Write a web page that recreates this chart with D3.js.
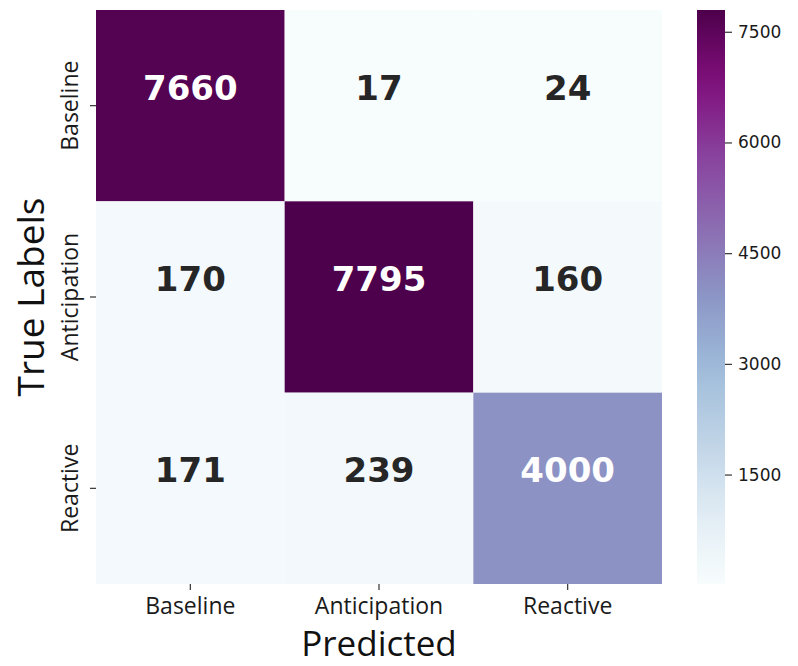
<!DOCTYPE html>
<html>
<head>
<meta charset="utf-8">
<script src="https://cdn.jsdelivr.net/npm/d3@7"></script>
<style>
  html, body { margin: 0; padding: 0; background: #fff; }
  svg { display: block; }
</style>
</head>
<body>
<svg id="chart" width="798" height="666"></svg>
<script>
// Confusion matrix: rows are true labels, columns are predictions
const classes = ["Baseline", "Anticipation", "Reactive"];
const rowBaseline = [7660, 17, 24];
const rowAnticipation = [170, 7795, 160];
const rowReactive = [171, 239, 4000];
const matrix = [rowBaseline, rowAnticipation, rowReactive];
const colorbarTicks = [1500, 3000, 4500, 6000, 7500];

// ColorBrewer BuPu, interpolated piecewise-linearly
const buPu = ["#f7fcfd", "#e0ecf4", "#bfd3e6", "#9ebcda", "#8c96c6",
              "#8c6bb1", "#88419d", "#810f7c", "#4d004b"];

const allValues = matrix.flat();
const vmin = d3.min(allValues), vmax = d3.max(allValues);

const ramp = d3.piecewise(d3.interpolateRgb, buPu);
const color = d3.scaleSequential(ramp).domain([vmin, vmax]);

const svg = d3.select("#chart");
const m = { left: 96, top: 10, right: 662, bottom: 584 };

const x = d3.scaleBand().domain(classes).range([m.left, m.right]);
const y = d3.scaleBand().domain(classes).range([m.top, m.bottom]);

const cells = [];
matrix.forEach((row, i) => row.forEach((v, j) => cells.push({ t: classes[i], p: classes[j], v })));

svg.append("g").selectAll("rect").data(cells).join("rect")
  .attr("x", d => x(d.p))
  .attr("y", d => y(d.t))
  .attr("width", x.bandwidth())
  .attr("height", y.bandwidth())
  .attr("fill", d => color(d.v));

function luminance(c) {
  const rgb = d3.rgb(c);
  const f = u => { u /= 255; return u <= 0.03928 ? u / 12.92 : Math.pow((u + 0.055) / 1.055, 2.4); };
  return 0.2126 * f(rgb.r) + 0.7152 * f(rgb.g) + 0.0722 * f(rgb.b);
}

svg.append("g").selectAll("text").data(cells).join("text")
  .attr("x", d => x(d.p) + x.bandwidth() / 2)
  .attr("y", d => y(d.t) + y.bandwidth() / 2 - 18)
  .attr("text-anchor", "middle")
  .attr("dominant-baseline", "central")
  .attr("font-family", "DejaVu Sans")
  .attr("font-weight", "bold")
  .attr("font-size", 34)
  .attr("fill", d => luminance(color(d.v)) > 0.408 ? "#262626" : "#ffffff")
  .text(d => d.v);

// Axes
const labelFont = "'Open Sans', 'Noto Sans', sans-serif";

const xAxis = svg.append("g")
  .attr("transform", `translate(0,${m.bottom})`)
  .call(d3.axisBottom(x).tickSize(6).tickPadding(8));
xAxis.select(".domain").remove();
xAxis.selectAll(".tick line").attr("stroke", "#333").attr("stroke-width", 1.2);
xAxis.selectAll(".tick text")
  .attr("font-family", labelFont)
  .attr("font-size", 23)
  .attr("fill", "#1a1a1a");

const yAxis = svg.append("g")
  .attr("transform", `translate(${m.left},0)`)
  .call(d3.axisLeft(y).tickSize(6).tickPadding(0));
yAxis.select(".domain").remove();
yAxis.selectAll(".tick line").attr("stroke", "#333").attr("stroke-width", 1.2);
yAxis.selectAll(".tick text")
  .attr("font-family", labelFont)
  .attr("font-size", 23)
  .attr("fill", "#1a1a1a")
  .attr("text-anchor", "middle")
  .attr("dy", null)
  .attr("x", null)
  .attr("transform", "translate(-18,0) rotate(-90)")
  .attr("dominant-baseline", "auto")
  .attr("y", 0);

svg.append("text")
  .attr("x", (m.left + m.right) / 2)
  .attr("y", 656)
  .attr("text-anchor", "middle")
  .attr("font-family", labelFont)
  .attr("font-size", 35)
  .attr("fill", "#111")
  .text("Predicted");

svg.append("text")
  .attr("transform", `translate(44,${(m.top + m.bottom) / 2}) rotate(-90)`)
  .attr("text-anchor", "middle")
  .attr("font-family", labelFont)
  .attr("font-size", 37)
  .attr("fill", "#111")
  .text("True Labels");

// Colorbar
const cb = { x: 697, w: 28 };
const cbScale = d3.scaleLinear().domain([vmin, vmax]).range([m.bottom, m.top]);

const grad = svg.append("defs").append("linearGradient")
  .attr("id", "cbgrad").attr("x1", 0).attr("y1", 1).attr("x2", 0).attr("y2", 0);
d3.range(0, 1.0001, 0.05).forEach(t => {
  grad.append("stop")
    .attr("offset", t)
    .attr("stop-color", color(vmin + t * (vmax - vmin)));
});

svg.append("rect")
  .attr("x", cb.x).attr("y", m.top)
  .attr("width", cb.w).attr("height", m.bottom - m.top)
  .attr("fill", "url(#cbgrad)");

const cbAxis = svg.append("g")
  .attr("transform", `translate(${cb.x + cb.w},0)`)
  .call(d3.axisRight(cbScale).tickValues(colorbarTicks).tickFormat(d3.format("d")).tickSize(7).tickPadding(6));
cbAxis.select(".domain").remove();
cbAxis.selectAll(".tick line").attr("stroke", "#333").attr("stroke-width", 1.2);
cbAxis.selectAll(".tick text")
  .attr("font-family", "DejaVu Sans")
  .attr("font-size", 17)
  .attr("fill", "#1a1a1a");
</script>
</body>
</html>
